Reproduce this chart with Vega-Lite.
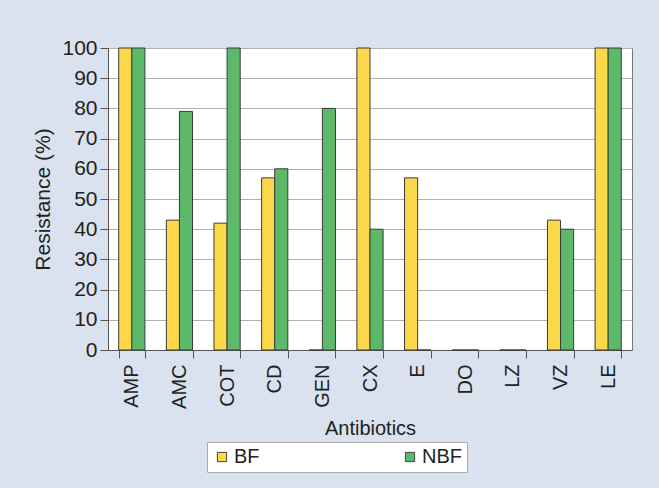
{
  "$schema": "https://vega.github.io/schema/vega-lite/v6.json",
  "width": 524,
  "height": 302,
  "autosize": {"type": "none"},
  "padding": {"left": 108, "top": 48, "right": 27, "bottom": 138},
  "background": "#d9e2ee",
  "data": {
    "values": [
      {"drug": "AMP", "group": "BF", "value": 100}, {"drug": "AMP", "group": "NBF", "value": 100},
      {"drug": "AMC", "group": "BF", "value": 43}, {"drug": "AMC", "group": "NBF", "value": 79},
      {"drug": "COT", "group": "BF", "value": 42}, {"drug": "COT", "group": "NBF", "value": 100},
      {"drug": "CD", "group": "BF", "value": 57}, {"drug": "CD", "group": "NBF", "value": 60},
      {"drug": "GEN", "group": "BF", "value": 0}, {"drug": "GEN", "group": "NBF", "value": 80},
      {"drug": "CX", "group": "BF", "value": 100}, {"drug": "CX", "group": "NBF", "value": 40},
      {"drug": "E", "group": "BF", "value": 57}, {"drug": "E", "group": "NBF", "value": 0},
      {"drug": "DO", "group": "BF", "value": 0}, {"drug": "DO", "group": "NBF", "value": 0},
      {"drug": "LZ", "group": "BF", "value": 0}, {"drug": "LZ", "group": "NBF", "value": 0},
      {"drug": "VZ", "group": "BF", "value": 43}, {"drug": "VZ", "group": "NBF", "value": 40},
      {"drug": "LE", "group": "BF", "value": 100}, {"drug": "LE", "group": "NBF", "value": 100}
    ]
  },
  "mark": {"type": "bar", "stroke": "#3a3a3a", "strokeWidth": 1},
  "encoding": {
    "x": {
      "field": "drug", "type": "nominal", "sort": null,
      "scale": {"paddingInner": 0.45, "paddingOuter": 0.225},
      "axis": {
        "title": "Antibiotics", "titleFont": "Liberation Sans", "titleFontSize": 20, "titleFontWeight": "normal", "titleColor": "#222",
        "titlePadding": 10,
        "labelAngle": -90, "labelFont": "Liberation Sans", "labelFontSize": 20, "labelColor": "#222", "labelPadding": 6,
        "tickBand": "extent", "tickSize": 8, "tickColor": "#555", "domainColor": "#555"
      }
    },
    "xOffset": {"field": "group", "type": "nominal", "scale": {"paddingInner": 0}},
    "y": {
      "field": "value", "type": "quantitative",
      "scale": {"domain": [0, 100]},
      "axis": {
        "title": "Resistance (%)", "titleFont": "Liberation Sans", "titleFontSize": 21, "titleFontWeight": "normal", "titleColor": "#222",
        "titlePadding": 8,
        "values": [0, 10, 20, 30, 40, 50, 60, 70, 80, 90, 100],
        "labelFont": "Liberation Sans", "labelFontSize": 21, "labelColor": "#222", "labelPadding": 3,
        "tickSize": 8, "tickColor": "#555", "domainColor": "#555",
        "grid": true, "gridColor": "#b0b0b0"
      }
    },
    "color": {
      "field": "group", "type": "nominal",
      "scale": {"domain": ["BF", "NBF"], "range": ["#fbd84a", "#5cb96a"]},
      "legend": {
        "title": null, "orient": "none", "direction": "horizontal",
        "legendX": 99, "legendY": 394,
        "fillColor": "white", "strokeColor": "#aaaaaa", "padding": 5,
        "symbolType": "square", "symbolSize": 85, "symbolStrokeColor": "#444", "symbolStrokeWidth": 1,
        "labelFont": "Liberation Sans", "labelFontSize": 20, "labelColor": "#222", "labelOffset": 2,
        "columnPadding": 140
      }
    }
  },
  "config": {
    "view": {"fill": "white", "stroke": "#777"},
    "axis": {"domainWidth": 1}
  }
}
